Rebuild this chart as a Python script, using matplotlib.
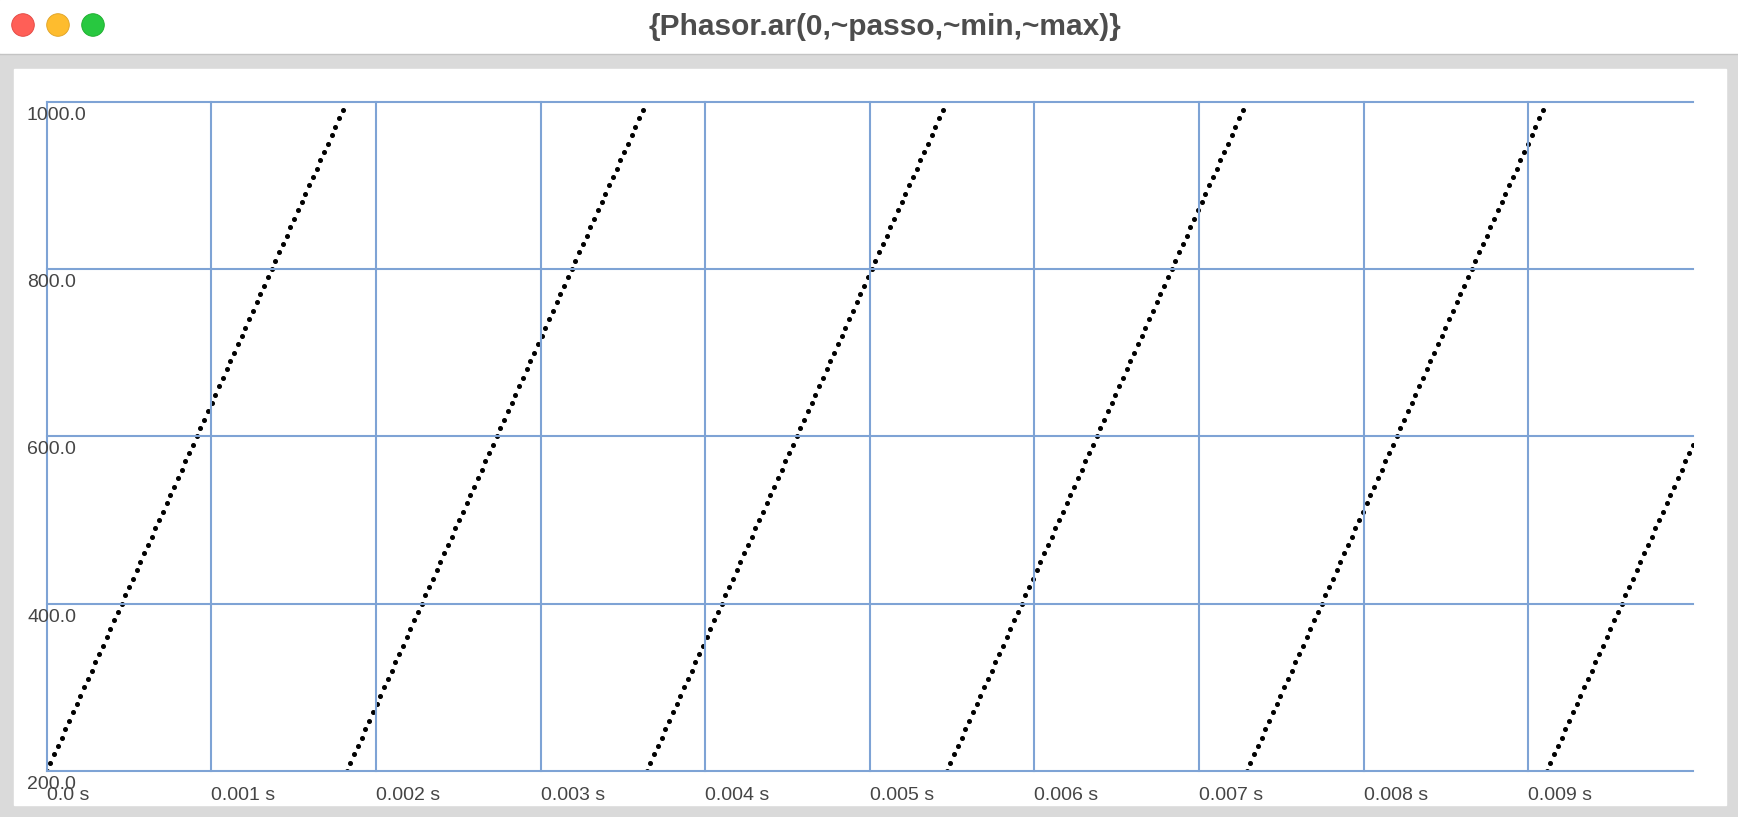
import numpy as np
import matplotlib
matplotlib.use("Agg")
import matplotlib.pyplot as plt
from matplotlib.patches import Rectangle, Circle
import matplotlib.transforms as mtransforms

# {Phasor.ar(0,~passo,~min,~max)} plotted for 0.01 s, one dot per sample
duration = 0.01
values = [
    200, 210, 220, 230, 240, 250, 260, 270, 280, 290, 300, 310, 320, 330, 340, 350, 360, 370, 380, 390,
    400, 410, 420, 430, 440, 450, 460, 470, 480, 490, 500, 510, 520, 530, 540, 550, 560, 570, 580, 590,
    600, 610, 620, 630, 640, 650, 660, 670, 680, 690, 700, 710, 720, 730, 740, 750, 760, 770, 780, 790,
    800, 810, 820, 830, 840, 850, 860, 870, 880, 890, 900, 910, 920, 930, 940, 950, 960, 970, 980, 990,
    200, 210, 220, 230, 240, 250, 260, 270, 280, 290, 300, 310, 320, 330, 340, 350, 360, 370, 380, 390,
    400, 410, 420, 430, 440, 450, 460, 470, 480, 490, 500, 510, 520, 530, 540, 550, 560, 570, 580, 590,
    600, 610, 620, 630, 640, 650, 660, 670, 680, 690, 700, 710, 720, 730, 740, 750, 760, 770, 780, 790,
    800, 810, 820, 830, 840, 850, 860, 870, 880, 890, 900, 910, 920, 930, 940, 950, 960, 970, 980, 990,
    200, 210, 220, 230, 240, 250, 260, 270, 280, 290, 300, 310, 320, 330, 340, 350, 360, 370, 380, 390,
    400, 410, 420, 430, 440, 450, 460, 470, 480, 490, 500, 510, 520, 530, 540, 550, 560, 570, 580, 590,
    600, 610, 620, 630, 640, 650, 660, 670, 680, 690, 700, 710, 720, 730, 740, 750, 760, 770, 780, 790,
    800, 810, 820, 830, 840, 850, 860, 870, 880, 890, 900, 910, 920, 930, 940, 950, 960, 970, 980, 990,
    200, 210, 220, 230, 240, 250, 260, 270, 280, 290, 300, 310, 320, 330, 340, 350, 360, 370, 380, 390,
    400, 410, 420, 430, 440, 450, 460, 470, 480, 490, 500, 510, 520, 530, 540, 550, 560, 570, 580, 590,
    600, 610, 620, 630, 640, 650, 660, 670, 680, 690, 700, 710, 720, 730, 740, 750, 760, 770, 780, 790,
    800, 810, 820, 830, 840, 850, 860, 870, 880, 890, 900, 910, 920, 930, 940, 950, 960, 970, 980, 990,
    200, 210, 220, 230, 240, 250, 260, 270, 280, 290, 300, 310, 320, 330, 340, 350, 360, 370, 380, 390,
    400, 410, 420, 430, 440, 450, 460, 470, 480, 490, 500, 510, 520, 530, 540, 550, 560, 570, 580, 590,
    600, 610, 620, 630, 640, 650, 660, 670, 680, 690, 700, 710, 720, 730, 740, 750, 760, 770, 780, 790,
    800, 810, 820, 830, 840, 850, 860, 870, 880, 890, 900, 910, 920, 930, 940, 950, 960, 970, 980, 990,
    200, 210, 220, 230, 240, 250, 260, 270, 280, 290, 300, 310, 320, 330, 340, 350, 360, 370, 380, 390,
    400, 410, 420, 430, 440, 450, 460, 470, 480, 490, 500, 510, 520, 530, 540, 550, 560, 570, 580, 590,
]
x_ticks = [0.0, 0.001, 0.002, 0.003, 0.004, 0.005, 0.006, 0.007, 0.008, 0.009]
x_labels = ["0.0 s", "0.001 s", "0.002 s", "0.003 s", "0.004 s",
            "0.005 s", "0.006 s", "0.007 s", "0.008 s", "0.009 s"]
y_ticks = [200, 400, 600, 800, 1000]
y_labels = ["200.0", "400.0", "600.0", "800.0", "1000.0"]
title = "{Phasor.ar(0,~passo,~min,~max)}"

W, H = 1738, 817
grid_col = "#7ea3d5"
txt_col = "#454545"
plt.rcParams['font.family'] = ['Liberation Sans', 'DejaVu Sans']

fig = plt.figure(figsize=(W / 100, H / 100), dpi=100)

# window chrome, in pixel coords
bg = fig.add_axes([0, 0, 1, 1])
bg.set_xlim(0, W)
bg.set_ylim(H, 0)
bg.axis('off')
bg.add_patch(Rectangle((0, 0), W, H, color="#dadada"))
bg.add_patch(Rectangle((0, 0), W, 53, color="white"))
bg.plot([0, W], [53.5, 53.5], color="#c4c4c4", lw=1)
bg.add_patch(Rectangle((14, 69), 1712, 736, color="white"))
for cx, fc, ec in [(23, "#ff5f57", "#e0443e"), (58, "#febc2e", "#dea123"), (93, "#28c840", "#1aab29")]:
    bg.add_patch(Circle((cx, 25), 11.3, facecolor=fc, edgecolor=ec, lw=0.6))
bg.text(885, 27, title, ha='center', va='center', fontsize=21.5,
        fontweight='bold', color="#4d4d4d")

# plot area
left, right, top, bottom = 46.7, 1693, 101.7, 771
ax = fig.add_axes([left / W, (H - bottom) / H, (right - left) / W, (bottom - top) / H])
ax.set_xlim(0, duration)
ax.set_ylim(200, 1000)
ax.axis('off')

t = np.arange(len(values)) * duration / (len(values) - 1)
ax.plot(t, values, 'o', ms=2.6, color='black', linestyle='none', zorder=2)

for xv in x_ticks:
    ax.axvline(xv, color=grid_col, lw=1.5, clip_on=False, zorder=3)
for yv in y_ticks:
    ax.axhline(yv, color=grid_col, lw=1.5, clip_on=False, zorder=3)

xtrans = mtransforms.offset_copy(ax.get_xaxis_transform(), fig=fig, x=0, y=-16, units='dots')
for xv, lab in zip(x_ticks, x_labels):
    ax.text(xv, 0, lab, transform=xtrans, ha='left', va='top', fontsize=14, color=txt_col)

ytrans = mtransforms.blended_transform_factory(fig.transFigure, ax.transData)
ytrans = mtransforms.offset_copy(ytrans, fig=fig, x=0, y=-5, units='dots')
for yv, lab in zip(y_ticks, y_labels):
    ax.text(27 / W, yv, lab, transform=ytrans, ha='left', va='top', fontsize=14, color=txt_col)

fig.savefig("out.png", dpi=100)
